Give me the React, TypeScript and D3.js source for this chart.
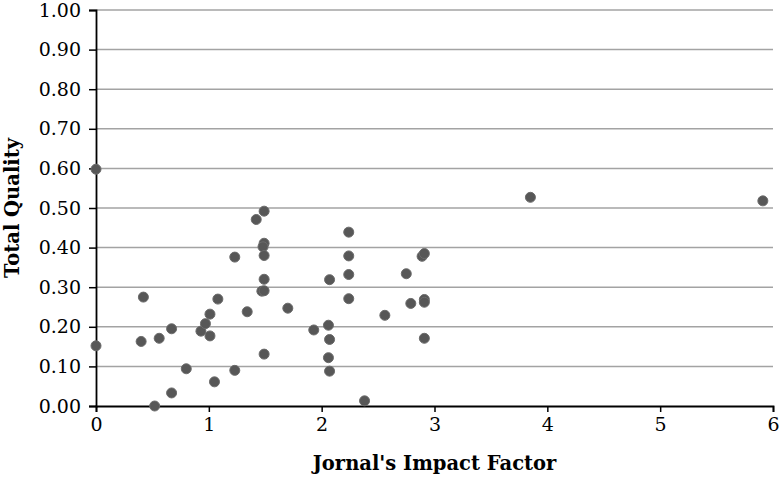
import React, { useEffect, useRef } from 'react'
import * as d3 from 'd3'

// values
const impactFactor = [
  0, 0, 0.42, 0.40, 0.56, 0.67, 0.93, 0.97, 1.01, 1.01,
  1.08, 1.23, 1.34, 1.42, 1.49, 1.49, 1.48, 1.49, 1.49, 1.47,
  1.49, 1.70, 1.93, 2.07, 2.06, 2.07, 0.67, 0.52, 0.80, 1.05,
  1.23, 1.49, 2.06, 2.07, 2.24, 2.24, 2.24, 2.24, 2.56, 2.75,
  2.79, 2.91, 2.91, 2.89, 2.91, 2.91, 2.38, 3.85, 5.91,
]
const totalQuality = [
  0.598, 0.152, 0.275, 0.163, 0.171, 0.195, 0.189, 0.208, 0.232, 0.177,
  0.270, 0.376, 0.238, 0.471, 0.492, 0.411, 0.402, 0.380, 0.320, 0.290,
  0.291, 0.247, 0.192, 0.319, 0.204, 0.168, 0.033, 0.000, 0.094, 0.061,
  0.090, 0.131, 0.122, 0.088, 0.439, 0.379, 0.332, 0.271, 0.229, 0.334,
  0.259, 0.269, 0.262, 0.378, 0.385, 0.171, 0.013, 0.527, 0.518,
]
const xTicks = [0, 1, 2, 3, 4, 5, 6]
const yTicks = [0, 0.1, 0.2, 0.3, 0.4, 0.5, 0.6, 0.7, 0.8, 0.9, 1.0]
const xTitle = "Jornal's Impact Factor"
const yTitle = 'Total Quality'

const W = 781
const H = 478
const FONT = '"DejaVu Serif", serif'

export default function App() {
  const ref = useRef<SVGSVGElement>(null)

  useEffect(() => {
    if (!ref.current) return
    document.body.style.margin = '0'
    const svg = d3.select(ref.current)
    svg.selectAll('*').remove()

    const margin = { top: 10, right: 8, bottom: 72, left: 96 }
    const x = d3.scaleLinear().domain([0, 6]).range([margin.left, W - margin.right])
    const y = d3.scaleLinear().domain([0, 1]).range([H - margin.bottom, margin.top])

    // horizontal gridlines
    svg.append('g')
      .selectAll('line')
      .data(yTicks.slice(1))
      .enter()
      .append('line')
      .attr('x1', x(0))
      .attr('x2', x(6))
      .attr('y1', (d) => y(d))
      .attr('y2', (d) => y(d))
      .attr('stroke', '#a3a3a3')
      .attr('stroke-width', 1.5)

    // y axis
    const yAxis = svg.append('g')
      .attr('transform', `translate(${x(0)},0)`)
      .call(d3.axisLeft(y).tickValues(yTicks).tickFormat(d3.format('.2f')).tickSize(7).tickPadding(8))
    yAxis.select('.domain').attr('stroke', '#000').attr('stroke-width', 1.8)
    yAxis.selectAll('line').attr('stroke', '#000').attr('stroke-width', 1.5)
    yAxis.selectAll('text')
      .attr('fill', '#000')
      .style('font-family', FONT)
      .style('font-size', '19px')

    // x axis
    const xAxis = svg.append('g')
      .attr('transform', `translate(0,${y(0)})`)
      .call(d3.axisBottom(x).tickValues(xTicks).tickFormat(d3.format('d')).tickSize(6).tickPadding(6))
    xAxis.select('.domain').attr('stroke', '#000').attr('stroke-width', 1.8)
    xAxis.selectAll('line').attr('stroke', '#000').attr('stroke-width', 1.5)
    xAxis.selectAll('text')
      .attr('fill', '#000')
      .style('font-family', FONT)
      .style('font-size', '19px')

    // axis titles
    svg.append('text')
      .attr('x', (x(0) + x(6)) / 2)
      .attr('y', 470)
      .attr('text-anchor', 'middle')
      .style('font-family', FONT)
      .style('font-weight', 'bold')
      .style('font-size', '19.5px')
      .text(xTitle)

    svg.append('text')
      .attr('transform', `translate(19,${(y(0) + y(1)) / 2}) rotate(-90)`)
      .attr('text-anchor', 'middle')
      .style('font-family', FONT)
      .style('font-weight', 'bold')
      .style('font-size', '19.5px')
      .text(yTitle)

    // points
    svg.append('g')
      .selectAll('circle')
      .data(impactFactor.map((v, i) => [v, totalQuality[i]]))
      .enter()
      .append('circle')
      .attr('cx', (d) => x(d[0]))
      .attr('cy', (d) => y(d[1]))
      .attr('r', 5)
      .attr('fill', '#575757')
      .attr('stroke', '#6b6b6b')
      .attr('stroke-width', 1)
  }, [])

  return (
    <svg
      ref={ref}
      width={W}
      height={H}
      style={{ position: 'absolute', left: 0, top: 0, background: '#fff' }}
    />
  )
}
